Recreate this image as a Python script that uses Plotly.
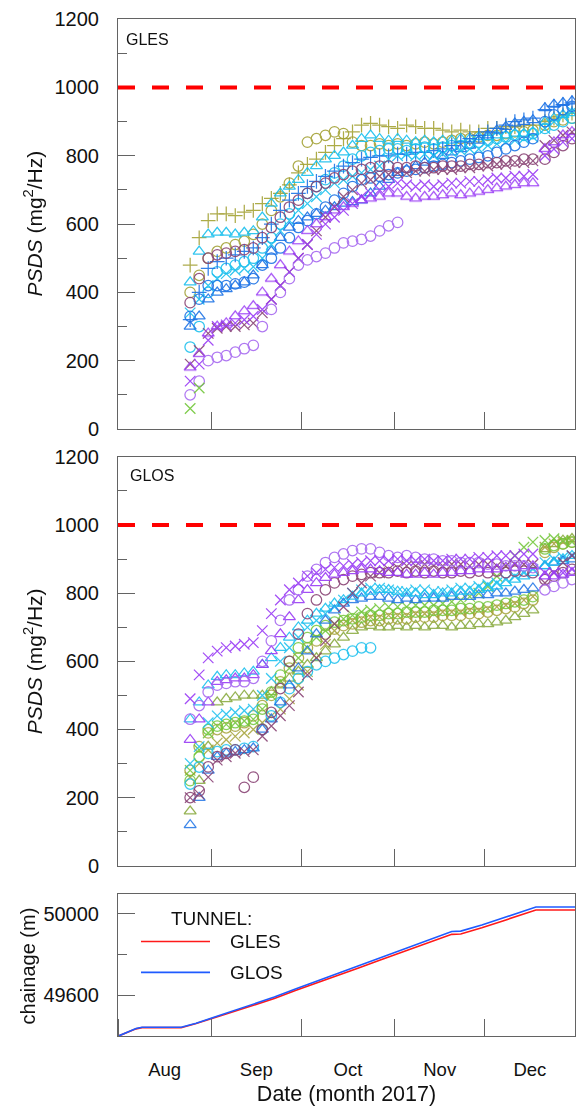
import plotly.graph_objects as go

# ---------------- data ----------------
PSD_DATES = ["2017-08-25", "2017-08-28", "2017-08-31", "2017-09-03", "2017-09-06", "2017-09-09",
             "2017-09-12", "2017-09-15", "2017-09-18", "2017-09-21", "2017-09-24", "2017-09-27",
             "2017-09-30", "2017-10-03", "2017-10-06", "2017-10-09", "2017-10-12", "2017-10-15",
             "2017-10-18", "2017-10-21", "2017-10-24", "2017-10-27", "2017-10-30", "2017-11-02",
             "2017-11-05", "2017-11-08", "2017-11-11", "2017-11-14", "2017-11-17", "2017-11-20",
             "2017-11-23", "2017-11-26", "2017-11-29", "2017-12-02", "2017-12-05", "2017-12-08",
             "2017-12-11", "2017-12-14", "2017-12-17", "2017-12-21", "2017-12-24", "2017-12-27",
             "2017-12-30"]

N = None
# GLES tunnel sensors
GLES_OLIVE_PLUS = [480, 560, 610, 630, 630, 625, 635, 640, 660, 675,
                   690, 715, 750, 775, 790, 810, 830, 850, 870, 890,
                   895, 890, 885, 880, 890, 885, 880, 880, 875, 870,
                   875, 870, 870, 880, 880, 885, 885, 890, 890,
                   900, 910, 920, 925]
GLES_OLIVE_CIRC = [400, 450, 500, 520, 530, 540, 550, 570, 600, 640,
                   680, 720, 770, 840, 850, 860, 870, 865, 840, 830,
                   830, 835, 830, 835, 830, 835, 840, 835, 840, 845,
                   850, 850, 855, 860, 860, 865, 870, 870, 875,
                   890, 900, 905, 910]
GLES_CYAN_TRI = [430, 520, 570, 575, 575, 570, 575, 580, 620, 660,
                 690, 710, 730, 750, 770, 790, 800, 810, 830, 850,
                 860, 850, 845, 850, 845, 840, 845, 840, 845, 845,
                 850, 850, 855, 855, 860, 860, 865, 865, 870,
                 900, 910, 920, 925]
GLES_BLUE_CIRC = [330, 380, 420, 420, 420, 425, 430, 440, 480, 500,
                  530, 560, 590, 610, 630, 650, 670, 690, 710, 730,
                  735, 740, 745, 750, 755, 760, 765, 770, 775, 780,
                  785, 790, 795, 800, 810, 820, 830, 840, 850,
                  900, 920, 935, 945]
GLES_MAROON_CIRC = [370, 440, 500, 510, 515, 520, 525, 530, 560, 590,
                    620, 650, 670, 690, 710, 720, 735, 745, 755, 760,
                    765, 770, 770, 765, 765, 770, 765, 765, 770, 770,
                    770, 775, 775, 780, 780, 785, 785, 790, 790,
                    790, 810, 830, 850]
GLES_PURPLE_X = [140, 190, 260, 300, 305, 310, 320, 330, 350, 380,
                 420, 460, 500, 540, 570, 600, 620, 640, 660, 680,
                 690, 700, 710, 720, 715, 710, 715, 710, 715, 720,
                 720, 725, 725, 730, 735, 735, 740, 740, 745,
                 800, 820, 840, 850]
GLES_LAVENDER_CIRC = [100, 140, 200, 210, 215, 225, 235, 245, 300, 350,
                      400, 440, 480, 495, 505, 515, 530, 545, 550, 555,
                      565, 580, 595, 605, N, N, N, N, N, N,
                      N, N, N, N, N, N, N, N, N,
                      N, N, N, N]
GLES_PURPLE_TRI = [180, 220, 280, 300, 310, 330, 345, 360, 400, 440,
                   480, 520, 550, 580, 600, 620, 640, 650, 660, 670,
                   675, 680, 690, 690, 680, 675, 680, 680, 685, 690,
                   685, 690, 695, 700, 705, 710, 715, 720, 720,
                   820, 840, 860, 870]
GLES_CYAN_X = [340, 380, 420, 440, 455, 465, 470, 475, 500, 540,
               580, 610, 640, 660, 680, 700, 720, 730, 740, 750,
               760, 770, 790, 800, 805, 800, 805, 800, 805, 810,
               815, 820, 820, 830, 835, 840, 845, 850, 855,
               880, 900, 915, 930]
GLES_BLUE_TRI = [300, 330, 380, 400, 410, 420, 430, 450, 480, 520,
                 560, 590, 610, 620, 630, 640, 650, 660, 665, 670,
                 690, 710, 730, 750, 760, 770, 780, 790, 800, 810,
                 820, 830, 845, 860, 875, 885, 895, 900, 905,
                 940, 950, 955, 960]
GLES_BLUE_PLUS = [320, 400, 470, 490, 500, 510, 520, 530, 560, 600,
                  640, 670, 690, 710, 725, 740, 755, 770, 780, 790,
                  795, 800, 800, 805, 805, 810, 810, 815, 820, 830,
                  840, 850, 860, 870, 880, 890, 900, 905, 910,
                  935, 945, 950, 955]
GLES_CYAN_CIRC = [240, 300, 400, 460, 470, 480, 490, 500, 530, 560,
                  600, 630, 660, 690, 710, 730, 750, 770, 790, 800,
                  810, 815, 820, 820, 815, 820, 825, 820, 825, 830,
                  830, 835, 840, 845, 850, 855, 860, 860, 865,
                  880, 890, 900, 910]
GLES_GREEN_X = [60, 120, N, N, N, N, N, N, N, N,
                N, N, N, N, N, N, N, N, N, N,
                N, N, N, N, N, N, N, N, N, N,
                N, N, N, N, N, N, N, N, N,
                N, N, N, N]
GLES_MAROON_X = [190, 230, 280, 295, 300, 300, 305, 310, 340, 380,
                 420, 460, 500, 540, 580, 620, 650, 680, 700, 720,
                 730, 740, 745, 750, 750, 755, 755, 760, 760, 760,
                 765, 765, 770, 770, 775, 775, 780, 780, 785,
                 830, 845, 860, 870]

# GLOS tunnel sensors
GLOS_PURPLE_X = [490, 560, 610, 630, 640, 645, 650, 655, 690, 740,
                 780, 810, 830, 850, 860, 870, 875, 880, 885, 890,
                 895, 895, 895, 900, 895, 895, 900, 895, 895, 900,
                 900, 900, 905, 905, 910, 910, 910, 915, 915,
                 860, 860, 860, 870]
GLOS_LAVENDER_CIRC = [430, 470, 510, 530, 535, 540, 540, 550, 600, 660,
                      720, 780, 810, 850, 870, 890, 905, 915, 925, 930,
                      930, 920, 910, 905, 910, 905, 900, 900, 895, 895,
                      890, 890, 890, 885, 885, 880, 880, 880, 875,
                      810, 820, 830, 840]
GLOS_PURPLE_TRI = [370, 430, 480, 540, 545, 550, 550, 560, 590, 630,
                   680, 730, 780, 810, 830, 845, 855, 860, 865, 870,
                   870, 865, 860, 860, 855, 855, 860, 855, 860, 860,
                   865, 865, 870, 870, 870, 875, 875, 880, 880,
                   850, 850, 855, 860]
GLOS_CYAN_TRI = [430, 480, 530, 555, 560, 560, 565, 570, 590, 610,
                 640, 670, 700, 720, 740, 755, 770, 780, 790, 800,
                 805, 810, 810, 805, 800, 800, 795, 795, 800, 800,
                 805, 805, 810, 815, 820, 830, 840, 850, 860,
                 880, 890, 900, 910]
GLOS_BLUE_TRI = [120, 200, 280, 320, 330, 335, 340, 345, 400, 430,
                 480, 530, 580, 630, 680, 720, 750, 770, 780, 785,
                 790, 790, 785, 780, 785, 780, 785, 785, 785, 790,
                 790, 790, 795, 795, 800, 800, 805, 810, 815,
                 880, 890, 895, 900]
GLOS_MAROON_X = [200, 210, 260, 310, 320, 330, 335, 340, 380, 410,
                 440, 470, 510, 560, 610, 660, 710, 760, 800, 830,
                 850, 860, 870, 875, 880, 880, 885, 880, 880, 885,
                 885, 880, 885, 885, 880, 880, 885, 885, 885,
                 830, 860, 890, 910]
GLOS_MAROON_CIRC = [200, 220, 290, 320, 330, 340, 230, 260, 400, 450,
                    520, 600, 680, 740, 780, 810, 830, 840, 850, 855,
                    860, 860, 860, 865, 860, 865, 860, 865, 860, 860,
                    865, 860, 865, 860, 865, 860, 865, 865, 860,
                    840, 850, 860, 870]
GLOS_GREEN_CIRC = [250, 320, 400, 410, 415, 420, 425, 430, 460, 510,
                   560, 600, 640, 670, 690, 705, 715, 720, 725, 730,
                   735, 735, 740, 740, 745, 745, 745, 750, 750, 750,
                   755, 755, 760, 760, 765, 770, 775, 780, 790,
                   930, 940, 945, 950]
GLOS_OLIVE_CIRC = [280, 350, 390, 400, 405, 410, 420, 440, 470, 500,
                   540, 580, 610, 640, 660, 680, 695, 705, 710, 715,
                   720, 720, 725, 725, 725, 730, 730, 730, 735, 735,
                   735, 740, 740, 745, 750, 755, 760, 770, 780,
                   920, 935, 945, 950]
GLOS_GREEN_TRI = [160, 250, 350, 480, 490, 495, 500, 500, 500, 510,
                  530, 550, 570, 590, 610, 630, 650, 670, 690, 700,
                  705, 700, 700, 705, 700, 705, 700, 705, 705, 700,
                  705, 705, 710, 710, 715, 720, 730, 740, 750,
                  930, 945, 955, 960]
GLOS_CYAN_CIRC = [240, 290, 330, 335, 340, 340, 345, 350, 400, 440,
                  480, 520, 550, 570, 590, 600, 610, 620, 630, 640,
                  640, N, N, N, N, N, N, N, N, N,
                  N, N, N, N, N, N, N, N, N,
                  N, N, N, N]
GLOS_CYAN_X = [300, 350, 420, 440, 445, 450, 455, 460, 500, 550,
               600, 640, 670, 700, 720, 740, 760, 780, 800, 810,
               815, 815, 810, 805, 805, 810, 810, 805, 805, 810,
               815, 815, 820, 825, 830, 840, 850, 860, 870,
               890, 900, 905, 910]
GLOS_OLIVE_X = [260, 300, 340, 360, 370, 380, 390, 400, 420, 440,
                460, 490, 530, 570, 610, 650, 690, 710, 720, 725,
                730, 730, 735, 735, 735, 740, 740, 740, 745, 745,
                745, 750, 750, 755, 760, 765, 770, 780, 790,
                935, 945, 950, 955]
GLOS_GREEN_X = [280, 340, 390, 410, 415, 420, 425, 430, 460, 500,
                540, 580, 610, 640, 670, 690, 710, 725, 735, 745,
                750, 755, 760, 760, 760, 765, 765, 765, 770, 775,
                780, 790, 800, 820, 850, 880, 910, 935, 950,
                955, 960, 955, 950]

PSDS_LIMIT = 1000

CH_DATES = ["2017-08-01", "2017-08-04", "2017-08-07", "2017-08-09", "2017-08-22", "2017-08-27",
            "2017-09-01", "2017-09-08", "2017-09-15", "2017-09-22", "2017-09-29", "2017-10-06",
            "2017-10-13", "2017-10-20", "2017-10-27", "2017-11-03", "2017-11-10", "2017-11-17",
            "2017-11-20", "2017-11-23", "2017-11-30", "2017-12-07", "2017-12-14", "2017-12-18",
            "2017-12-31"]
CH_GLES = [49400, 49418, 49436, 49442, 49442, 49462, 49485, 49518, 49552, 49585, 49624, 49660,
           49698, 49735, 49773, 49810, 49848, 49886, 49900, 49902, 49932, 49966, 50000, 50020,
           50020]
CH_GLOS = [49400, 49420, 49438, 49444, 49444, 49464, 49488, 49522, 49557, 49592, 49632, 49670,
           49708, 49746, 49784, 49822, 49860, 49899, 49914, 49916, 49946, 49980, 50014, 50034,
           50034]

# ---------------- styles ----------------
OLIVE = "#a5a33a"
CYAN = "#1cc0ee"
BLUE = "#1f74e6"
PURPLE = "#9a3cf5"
LAVENDER = "#a76af0"
MAROON = "#8a4576"
GREEN = "#72c63a"
OLIVEGREEN = "#86a83a"

GLES_TRACES = [
    (GLES_OLIVE_PLUS, OLIVE, "cross-thin-open"),
    (GLES_OLIVE_CIRC, OLIVE, "circle-open"),
    (GLES_CYAN_TRI, CYAN, "triangle-up-open"),
    (GLES_CYAN_CIRC, CYAN, "circle-open"),
    (GLES_BLUE_PLUS, BLUE, "cross-thin-open"),
    (GLES_BLUE_TRI, BLUE, "triangle-up-open"),
    (GLES_CYAN_X, CYAN, "x-thin-open"),
    (GLES_BLUE_CIRC, BLUE, "circle-open"),
    (GLES_MAROON_CIRC, MAROON, "circle-open"),
    (GLES_MAROON_X, MAROON, "x-thin-open"),
    (GLES_PURPLE_TRI, PURPLE, "triangle-up-open"),
    (GLES_PURPLE_X, PURPLE, "x-thin-open"),
    (GLES_LAVENDER_CIRC, LAVENDER, "circle-open"),
    (GLES_GREEN_X, GREEN, "x-thin-open"),
]
GLOS_TRACES = [
    (GLOS_GREEN_TRI, OLIVEGREEN, "triangle-up-open"),
    (GLOS_OLIVE_X, OLIVE, "x-thin-open"),
    (GLOS_OLIVE_CIRC, OLIVE, "circle-open"),
    (GLOS_GREEN_CIRC, GREEN, "circle-open"),
    (GLOS_GREEN_X, GREEN, "x-thin-open"),
    (GLOS_CYAN_CIRC, CYAN, "circle-open"),
    (GLOS_CYAN_X, CYAN, "x-thin-open"),
    (GLOS_BLUE_TRI, BLUE, "triangle-up-open"),
    (GLOS_CYAN_TRI, CYAN, "triangle-up-open"),
    (GLOS_MAROON_CIRC, MAROON, "circle-open"),
    (GLOS_MAROON_X, MAROON, "x-thin-open"),
    (GLOS_PURPLE_TRI, PURPLE, "triangle-up-open"),
    (GLOS_LAVENDER_CIRC, LAVENDER, "circle-open"),
    (GLOS_PURPLE_X, PURPLE, "x-thin-open"),
]

W, H = 579, 1108
FONT = "Liberation Sans, Arial, sans-serif"
AXC = "#636363"


def px_x(p):
    return p / W


def px_y(p):
    # vertical placement target in picture pixels
    return 1 - ((p - 7.8) / 0.983) / H


fig = go.Figure()

for axn, traces in (("", GLES_TRACES), ("2", GLOS_TRACES)):
    for vals, col, sym in traces:
        fig.add_trace(go.Scatter(
            x=PSD_DATES, y=vals, mode="markers", xaxis="x" + axn, yaxis="y" + axn,
            showlegend=False, opacity=0.9,
            marker=dict(symbol=sym, size=10.5, color=col, line=dict(width=1.25, color=col)),
        ))

fig.add_trace(go.Scatter(x=CH_DATES, y=CH_GLES, mode="lines", xaxis="x3", yaxis="y3",
                         showlegend=False, line=dict(color="#ff1a1a", width=1.6)))
fig.add_trace(go.Scatter(x=CH_DATES, y=CH_GLOS, mode="lines", xaxis="x3", yaxis="y3",
                         showlegend=False, line=dict(color="#1f5bff", width=1.6)))

XDOM = [px_x(118), px_x(575)]
xbase = dict(type="date", range=["2017-08-01", "2017-12-31"], domain=XDOM,
             showline=True, mirror=True, linecolor=AXC, linewidth=1,
             ticks="inside", ticklen=17, tickcolor=AXC, tickwidth=1,
             dtick="M1", tick0="2017-08-01", showgrid=False, zeroline=False)
ybase = dict(showline=True, mirror=True, linecolor=AXC, linewidth=1,
             ticks="inside", ticklen=17, tickcolor=AXC, tickwidth=1,
             showgrid=False, zeroline=False, ticklabelstandoff=14,
             tickfont=dict(size=20, color="#111"))

fig.update_layout(
    width=W, height=H, margin=dict(l=0, r=0, t=0, b=0),
    paper_bgcolor="white", plot_bgcolor="white",
    font=dict(family=FONT, color="#111"),
    xaxis=dict(xbase, anchor="y", showticklabels=False),
    xaxis2=dict(xbase, anchor="y2", showticklabels=False),
    xaxis3=dict(xbase, anchor="y3", showticklabels=True, ticklabelmode="period",
                tickformat="%b", tickfont=dict(size=18.5, color="#111"), ticklabelstandoff=17,
                title=dict(text="Date (month 2017)", font=dict(size=21.5, color="#111"), standoff=6)),
    yaxis=dict(ybase, anchor="x", domain=[px_y(427), px_y(16)], range=[0, 1200], dtick=200,
               minor=dict(dtick=100, ticklen=9, ticks="inside", tickcolor=AXC)),
    yaxis2=dict(ybase, anchor="x2", domain=[px_y(865), px_y(455)], range=[0, 1200], dtick=200,
                minor=dict(dtick=100, ticklen=9, ticks="inside", tickcolor=AXC)),
    yaxis3=dict(ybase, anchor="x3", domain=[px_y(1036), px_y(893)], range=[49400, 50100],
                dtick=400, tick0=49600, tickformat="d",
                minor=dict(dtick=200, ticklen=9, ticks="inside", tickcolor=AXC)),
)

# threshold lines
for yr, xr in (("y", "x"), ("y2", "x2")):
    fig.add_shape(type="line", xref=xr + " domain", x0=0, x1=1, yref=yr,
                  y0=PSDS_LIMIT, y1=PSDS_LIMIT,
                  line=dict(color="#ff0000", width=4, dash="17px,17px"))

ann = []
ann.append(dict(text="<i>PSDS</i> (mg<sup>2</sup>/Hz)", x=px_x(33), y=px_y(221), textangle=-90,
                font=dict(size=21)))
ann.append(dict(text="<i>PSDS</i> (mg<sup>2</sup>/Hz)", x=px_x(33), y=px_y(660), textangle=-90,
                font=dict(size=21)))
ann.append(dict(text="chainage (m)", x=px_x(28), y=px_y(966), textangle=-90, font=dict(size=20)))
ann.append(dict(text="GLES", x=px_x(124), y=px_y(36), xanchor="left", font=dict(size=16)))
ann.append(dict(text="GLOS", x=px_x(128), y=px_y(474), xanchor="left", font=dict(size=16)))
ann.append(dict(text="TUNNEL:", x=px_x(211), y=px_y(918), font=dict(size=19)))
ann.append(dict(text="GLES", x=px_x(228), y=px_y(941), xanchor="left", font=dict(size=19)))
ann.append(dict(text="GLOS", x=px_x(228), y=px_y(972), xanchor="left", font=dict(size=19)))
for a in ann:
    a.update(xref="paper", yref="paper", showarrow=False)
    a.setdefault("xanchor", "center")
    a.setdefault("yanchor", "middle")
fig.update_layout(annotations=ann)

# legend samples
fig.add_shape(type="line", xref="paper", yref="paper", x0=px_x(141), x1=px_x(210),
              y0=px_y(941), y1=px_y(941), line=dict(color="#ff1a1a", width=1.6))
fig.add_shape(type="line", xref="paper", yref="paper", x0=px_x(141), x1=px_x(210),
              y0=px_y(972), y1=px_y(972), line=dict(color="#1f5bff", width=1.6))

fig.write_html("out.html")
